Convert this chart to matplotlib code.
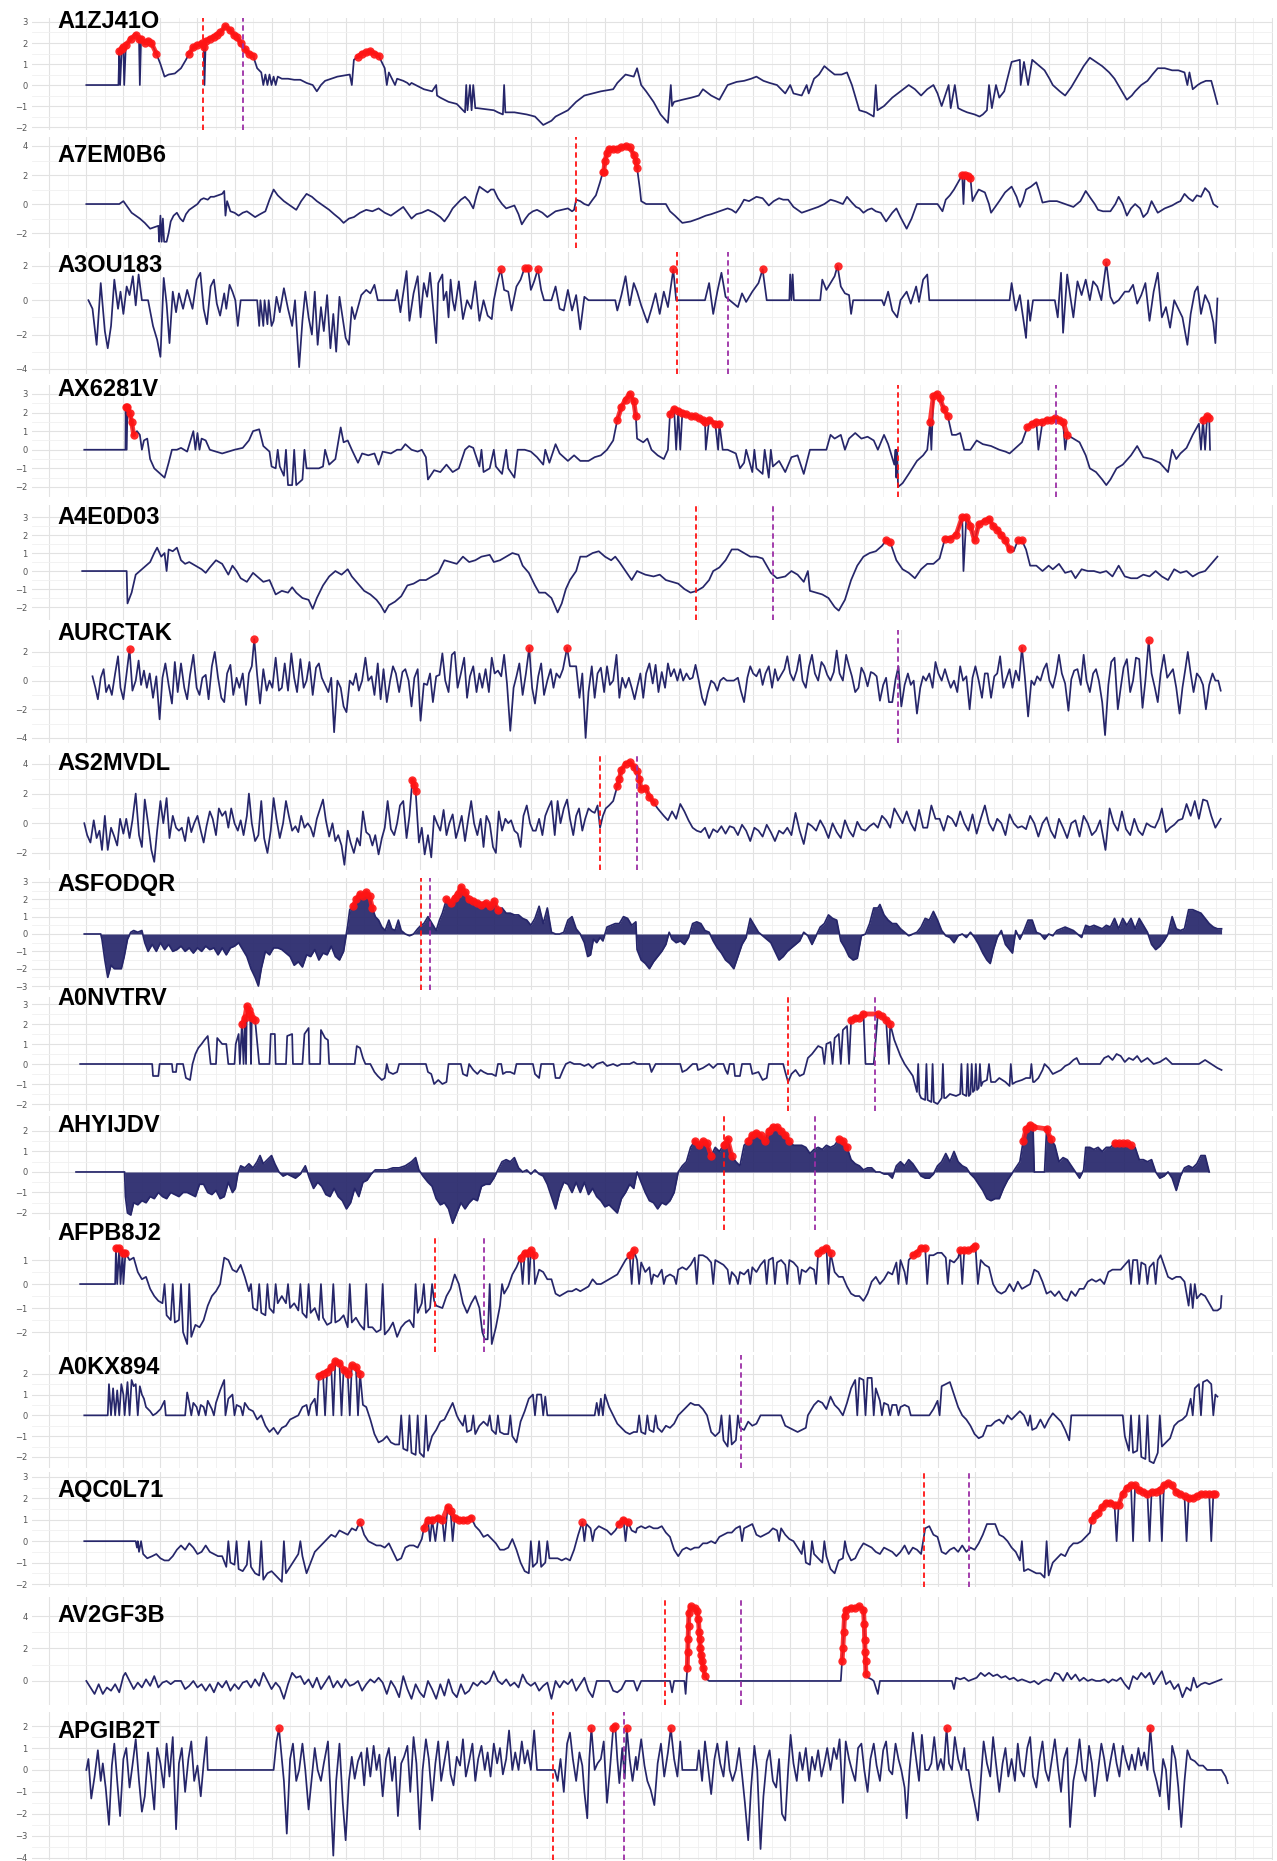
import numpy as np
import matplotlib
matplotlib.use("Agg")
import matplotlib.pyplot as plt

# Series: (time, value) pairs, time in arbitrary sample units.
A1ZJ41O = [(210,0),(288,0),(290,1.6),(292,0),(296,1.7),(300,1.8),(302,0),(306,1.9),(318,2.2),(330,2.4),(338,2.2),(340,0),(343,2.2),(352,2.0),(360,2.1),(368,2.0),(380,1.5),(390,1.0),(400,0.4),(410,0.5),(425,0.55),(440,0.8),(452,1.2),(460,1.5),(470,1.8),(480,1.9),(490,2.0),(495,1.8),(497,0),(500,2.1),(510,2.2),(520,2.3),(528,2.4),(535,2.5),(548,2.8),(560,2.6),(568,2.4),(575,2.3),(585,2.0),(595,1.7),(605,1.5),(615,1.4),(625,0.8),(635,0.6),(640,0),(645,0.5),(650,0),(655,0.5),(660,0),(665,0.4),(670,0),(675,0.4),(685,0.3),(700,0.3),(715,0.25),(730,0.25),(745,0.1),(760,0.0),(770,-0.3),(780,0.0),(790,0.2),(805,0.3),(820,0.4),(835,0.45),(850,0.5),(855,0),(860,1.2),(870,1.35),(880,1.5),(890,1.55),(900,1.6),(910,1.5),(920,1.4),(935,0.8),(940,0),(945,0.6),(950,0.4),(960,0),(965,0.3),(980,0.2),(990,0.1),(995,0),(1000,0.1),(1010,0.0),(1030,-0.2),(1050,-0.3),(1060,0),(1062,-0.5),(1070,-0.6),(1090,-0.8),(1110,-0.9),(1120,-1.1),(1130,-1.3),(1133,0),(1136,-1.2),(1142,0),(1146,-1.2),(1150,0),(1155,-1.1),(1160,-1.1),(1180,-1.15),(1200,-1.2),(1210,-1.3),(1222,-1.4),(1225,0),(1228,-1.3),(1250,-1.3),(1265,-1.35),(1280,-1.4),(1300,-1.5),(1310,-1.7),(1320,-1.9),(1330,-1.8),(1340,-1.7),(1350,-1.5),(1360,-1.4),(1380,-1.2),(1400,-0.8),(1420,-0.5),(1440,-0.4),(1460,-0.3),(1475,-0.25),(1490,-0.2),(1500,0.1),(1510,0.3),(1520,0.5),(1530,0.45),(1540,0.4),
           (1548,0.8),(1558,0.0),(1570,-0.3),(1588,-0.8),(1605,-1.4),(1623,-1.8),(1630,0),(1633,-1.0),(1638,-0.8),(1658,-0.7),(1680,-0.6),(1698,-0.5),(1708,-0.2),(1728,-0.5),(1748,-0.7),(1768,0.0),(1790,0.15),(1808,0.2),(1825,0.3),(1838,0.4),(1855,0.2),(1870,0.1),(1888,0.0),(1908,-0.4),(1920,0),(1928,-0.4),(1948,-0.5),(1960,0),(1965,-0.4),(1978,0.3),(1990,0.5),(2003,0.9),(2015,0.7),(2028,0.5),(2045,0.5),(2058,0.6),(2070,0.0),(2088,-1.2),(2105,-1.3),(2123,-1.5),(2128,0),(2132,-1.2),(2148,-1.0),(2168,-0.6),(2188,-0.3),(2208,0.0),(2223,-0.2),(2238,-0.5),(2253,-0.2),(2268,0.0),(2278,-0.4),(2288,-1.0),(2305,0),(2310,-1.1),(2320,0),(2328,-1.1),(2338,-1.2),(2350,-1.3),(2368,-1.4),(2380,-1.5),(2388,-1.4),(2398,-1.2),(2403,0),(2410,-1.1),(2420,0),(2428,-0.6),(2440,-0.3),(2458,1.1),(2468,1.15),(2478,1.2),(2480,0),(2488,1.1),(2498,0),(2508,1.2),(2520,1.0),(2538,0.7),(2550,0.3),(2558,0.0),(2575,-0.3),(2588,-0.5),(2603,-0.1),(2618,0.4),(2633,0.9),(2648,1.3),(2663,1.1),(2678,0.9),(2695,0.6),(2708,0.3),(2723,-0.2),(2738,-0.7),(2750,-0.5),(2758,-0.3),(2773,0.0),(2788,0.2),(2800,0.5),(2813,0.8),(2830,0.8),(2848,0.7),(2863,0.7),(2878,0.6),(2885,0),(2890,0.6),(2898,-0.2),(2910,0.0),(2918,0.1),(2930,0.2),(2943,0.2),(2950,-0.3),(2958,-0.9)]

A7EM0B6 = [(210,0),(290,0),(300,0.2),(310,-0.2),(320,-0.6),(330,-0.8),(340,-1.0),(352,-1.3),(365,-1.7),(375,-1.6),(385,-1.5),(387,-2.6),(390,-0.8),(393,-2.6),(396,-1.0),(399,-2.6),(405,-2.6),(410,-2.0),(415,-1.2),(422,-0.8),(430,-0.6),(438,-1.0),(445,-1.2),(452,-0.7),(460,-0.4),(470,-0.2),(480,0.0),(488,0.3),(495,0.4),(505,0.3),(512,0.5),(520,0.5),(530,0.6),(540,0.7),(545,0.9),(548,-0.8),(552,0.2),(560,-0.5),(570,-0.6),(580,-0.8),(590,-0.6),(600,-0.5),(610,-0.7),(620,-0.9),(632,-0.7),(645,-0.5),(655,0.3),(665,1.0),(675,0.6),(690,0.2),(705,-0.1),(720,-0.4),(732,0.2),(745,0.7),(758,0.5),(770,0.2),(785,-0.1),(800,-0.4),(812,-0.7),(825,-1.0),(835,-1.3),(848,-1.0),(860,-0.9),(875,-0.6),(890,-0.4),(905,-0.5),(920,-0.3),(935,-0.6),(950,-0.8),(965,-0.5),(980,-0.2),(990,-0.6),(1000,-1.0),(1012,-0.7),(1025,-0.6),(1040,-0.4),(1055,-0.6),(1070,-0.9),(1080,-1.2),(1090,-0.8),(1100,-0.3),(1110,0.0),(1120,0.3),(1130,0.5),(1140,0.2),(1150,-0.3),(1158,0.6),(1165,1.2),(1175,1.0),(1185,0.8),(1193,1.0),(1200,1.0),(1210,0.4),(1220,0.0),(1230,-0.3),(1240,-0.2),(1250,-0.1),(1260,-0.7),(1268,-1.4),(1277,-1.0),(1285,-0.7),(1295,-0.5),(1305,-0.4),(1318,-0.6),(1330,-0.9),(1340,-0.7),(1350,-0.5),(1365,-0.4),(1380,-0.3),(1390,-0.5),(1395,-0.4),(1400,0.3),(1410,0.2),(1420,0.0),(1430,-0.1),(1440,0.3),(1448,0.6),(1458,1.5),(1465,2.2),(1467,2.2),(1470,3.0),(1475,3.5),(1480,3.8),(1490,3.8),(1500,3.8),(1510,3.9),(1520,4.0),(1530,3.9),(1540,3.4),(1545,3.0),
           (1548,2.5),(1555,1.0),(1558,0.2),(1570,0.0),(1588,0.0),(1605,0.0),(1618,0.0),(1628,-0.5),(1640,-0.8),(1658,-1.3),(1678,-1.2),(1698,-1.0),(1715,-0.8),(1728,-0.7),(1748,-0.5),(1768,-0.3),(1778,-0.4),(1788,-0.6),(1798,-0.2),(1808,0.3),(1820,0.2),(1838,0.5),(1853,0.4),(1868,-0.1),(1880,0.2),(1893,0.4),(1903,0.3),(1915,0.3),(1928,-0.2),(1948,-0.6),(1968,-0.4),(1988,-0.2),(2003,0.0),(2018,0.3),(2030,0.2),(2048,0.0),(2058,0.5),(2070,0.1),(2080,-0.2),(2088,-0.3),(2098,-0.6),(2108,-0.4),(2118,-0.3),(2128,-0.5),(2140,-0.6),(2153,-1.2),(2168,-0.6),(2178,-0.3),(2188,-0.9),(2203,-1.7),(2215,-1.0),(2228,0.0),(2250,0.0),(2278,0.0),(2290,-0.5),(2298,0.3),(2308,0.6),(2318,1.0),(2328,1.5),(2338,2.0),(2341,0.0),(2344,2.0),(2352,1.9),(2358,1.8),(2363,0.2),(2368,0.5),(2378,1.0),(2393,0.8),(2403,0.0),(2408,-0.6),(2418,-0.2),(2428,0.2),(2442,0.8),(2458,1.2),(2470,0.5),(2478,-0.2),(2485,0.2),(2493,1.0),(2505,1.2),(2518,1.5),(2526,0.8),(2533,0.1),(2550,0.2),(2568,0.2),(2588,0.0),(2608,-0.2),(2625,0.2),(2638,0.9),(2650,0.4),(2660,0.0),(2668,-0.4),(2680,-0.5),(2698,-0.5),(2710,0.0),(2718,0.5),(2728,0.0),(2738,-0.8),(2748,-0.3),(2758,0.0),(2770,-0.3),(2778,-0.9),(2788,-0.6),(2798,0.2),(2813,-0.6),(2830,-0.3),(2848,-0.1),(2860,0.1),(2868,0.2),(2878,0.7),(2888,0.4),(2898,0.2),(2908,0.6),(2918,0.5),(2928,1.1),(2938,0.8),(2948,0.0),(2958,-0.2)]

A3OU183 = [(215,0),(225,-0.5),(235,-2.6),(245,1.0),(255,-1.8),(262,-2.8),(270,-1.5),(278,1.2),(287,-0.5),(293,0.5),(300,-0.8),(308,0.8),(315,0.3),(323,1.4),(330,-0.3),(337,1.5),(345,0.0),(360,0.0),(372,-1.5),(382,-2.3),(390,-3.3),(398,1.3),(405,-0.2),(412,-2.5),(420,0.5),(428,-0.7),(435,0.4),(445,-0.5),(455,0.6),(468,-0.5),(478,1.2),(487,1.6),(495,-0.5),(503,-1.4),(512,0.8),(520,1.2),(527,-0.2),(535,-0.9),(545,0.4),(550,-0.5),(558,0.9),(565,0.5),(572,0.0),(578,-1.5),(585,0.0),(625,0.0),(630,-1.5),(633,0.0),(640,-1.5),(643,0.0),(650,-1.4),(653,0.0),(660,-1.5),(665,-1.2),(672,0.2),(680,-0.7),(690,0.7),(700,-0.5),(710,-1.5),(717,0.0),(727,-3.9),(735,-1.2),(742,0.5),(750,-1.0),(758,-2.0),(765,0.5),(772,-2.6),(780,-0.4),(787,-1.8),(795,0.3),(803,-2.8),(810,-0.8),(817,-3.0),(825,0.2),(833,-1.1),(840,-2.2),(848,-2.6),(855,-0.4),(862,-1.1),(870,-0.4),(878,0.3),(890,0.6),(900,0.4),(910,0.9),(918,0.0),(960,0.0),(965,0.6),(973,-0.7),(980,0.4),(988,1.7),(995,-1.2),(1005,0.4),(1015,1.4),(1022,-1.0),(1030,1.0),(1038,0.2),(1045,1.6),(1052,-0.3),(1060,-2.5),(1065,1.0),(1075,1.5),(1078,0.0),(1085,0.5),(1090,-1.0),(1095,1.2),(1100,0.0),(1105,-0.6),(1115,1.1),(1125,-1.1),(1135,0.0),(1145,-0.5),(1155,1.1),(1165,-1.2),(1175,0.0),(1185,-0.9),(1195,-1.1),(1200,0.0),(1210,1.2),(1217,1.8),(1225,0.6),(1235,0.5),(1243,-0.6),(1255,0.8),(1265,1.2),(1275,1.9),(1283,1.9),(1290,0.6),(1298,1.1),(1307,1.8),(1315,0.6),(1322,0.0),(1340,0.0),(1350,0.8),(1360,-0.5),(1370,-0.6),(1380,0.6),(1390,-0.6),(1400,0.3),(1410,-1.7),(1420,0.2),(1430,0.0),(1495,0.0),(1500,-0.6),(1510,0.3),(1520,1.4),(1530,-0.3),(1540,1.0),
           (1548,0.5),(1558,-0.3),(1573,-1.3),(1583,-0.5),(1593,0.4),(1603,-0.8),(1613,0.5),(1623,-0.4),(1636,1.8),(1643,0.0),(1713,0.0),(1723,1.0),(1733,-0.8),(1743,0.5),(1753,1.6),(1763,0.2),(1773,0.0),(1793,-0.4),(1803,0.4),(1813,-0.1),(1828,0.5),(1843,1.0),(1853,1.8),(1863,0.0),(1918,0.0),(1920,1.5),(1923,0.0),(1926,1.5),(1929,0.0),(1993,0.0),(1998,1.2),(2008,0.6),(2018,1.0),(2028,1.4),(2035,2.0),(2043,0.8),(2053,0.4),(2063,0.3),(2068,-0.8),(2073,0.0),(2143,0.0),(2148,-0.3),(2158,0.5),(2168,-0.6),(2180,-1.0),(2188,0.0),(2203,0.5),(2213,-0.2),(2226,0.8),(2233,-0.1),(2243,1.2),(2253,1.5),(2258,0.0),(2453,0.0),(2458,1.0),(2468,-0.6),(2478,0.3),(2493,-2.2),(2498,0.0),(2503,-1.2),(2510,0.0),(2563,0.0),(2570,-1.0),(2578,1.6),(2583,-1.9),(2593,1.5),(2600,0.3),(2608,-1.0),(2618,1.1),(2628,0.3),(2638,1.2),(2648,0.0),(2656,1.1),(2666,0.8),(2676,0.0),(2688,2.2),(2698,0.2),(2706,-0.2),(2718,0.0),(2733,0.5),(2743,0.5),(2753,0.9),(2763,-0.2),(2773,0.3),(2783,1.0),(2793,-1.2),(2803,0.5),(2813,1.6),(2823,-1.0),(2833,-0.4),(2843,-1.6),(2853,0.0),(2863,-0.5),(2873,-1.0),(2885,-2.6),(2893,-0.8),(2903,0.5),(2910,0.8),(2918,-0.8),(2928,0.3),(2938,-0.2),(2948,-1.3),(2953,-2.5),(2958,0.1)]

AX6281V = [(205,0),(305,0),(305.5,2.3),(308,0),(310,2.3),(315,2.0),(320,1.5),(325,0.8),(333,1.0),(340,0.8),(345,0),(350,0.5),(358,0.6),(365,-0.5),(375,-1.0),(385,-1.2),(400,-1.5),(410,-0.7),(418,0.0),(430,0.0),(440,0.1),(455,-0.1),(470,1.0),(475,0),(480,0.9),(485,0),(490,0.6),(500,0.5),(510,0.0),(525,-0.1),(540,-0.2),(555,-0.1),(570,0.0),(590,0.1),(605,0.5),(615,1.0),(630,1.1),(640,0.2),(655,-0.1),(660,-0.9),(670,-1.0),(675,0),(680,-0.9),(690,-1.4),(695,0),(700,-1.9),(710,-1.9),(715,0),(720,-1.9),(735,-1.6),(740,0),(745,-1.0),(760,-1.0),(775,-1.0),(785,-0.9),(790,0),(800,-0.8),(815,-0.5),(828,1.2),(835,0.4),(845,0.5),(855,0.0),(870,-0.7),(880,-0.2),(895,-0.3),(910,-0.2),(920,-0.8),(930,-0.1),(950,-0.2),(965,0.0),(975,0.0),(985,0.3),(1000,0.0),(1015,-0.1),(1025,0.0),(1035,-0.4),(1040,-1.6),(1055,-1.1),(1070,-1.2),(1085,-0.8),(1100,-1.2),(1115,-1.0),(1130,0.0),(1140,0.2),(1150,0.1),(1165,-0.9),(1170,0),(1175,-1.2),(1190,-1.0),(1200,0),(1205,-0.9),(1220,-1.3),(1230,0),(1235,-1.0),(1250,-1.5),(1258,0.0),(1275,0.0),(1290,-0.1),(1305,-0.4),(1320,-0.8),(1325,0),(1335,-0.7),(1350,0.3),(1360,-0.2),(1380,-0.6),(1395,-0.3),(1410,-0.6),(1430,-0.6),(1445,-0.4),(1460,-0.3),(1475,0.0),(1490,0.5),(1500,1.6),(1510,2.3),(1520,2.7),(1530,3.0),(1540,2.6),(1545,1.8),
           (1548,0.6),(1563,0.4),(1573,0.6),(1583,0.0),(1598,-0.3),(1613,-0.5),(1623,0.0),(1628,1.9),(1638,2.2),(1643,0),(1648,2.1),(1653,0),(1658,2.0),(1668,1.9),(1678,1.8),(1688,1.8),(1698,1.7),(1708,1.6),(1713,1.5),(1715,0),(1723,1.6),(1738,1.4),(1745,0),(1748,1.4),(1756,0.0),(1768,0.0),(1788,-0.2),(1798,-1.0),(1808,-0.7),(1813,0),(1828,-1.2),(1833,0),(1838,-1.0),(1853,-1.3),(1858,0),(1868,-1.5),(1873,0),(1878,-0.9),(1893,-0.6),(1908,-1.2),(1923,-0.4),(1938,-0.3),(1953,-1.3),(1968,0.0),(2008,0.0),(2018,0.8),(2028,0.6),(2043,0.8),(2053,0.0),(2063,0.6),(2078,0.9),(2093,0.6),(2108,0.7),(2123,0.5),(2133,0.0),(2148,0.8),(2158,0.3),(2173,-0.8),(2176,0),(2178,-1.5),(2180,0),(2182,-2.0),(2193,-1.8),(2208,-1.3),(2228,-0.6),(2243,-0.3),(2253,0.0),(2260,1.5),(2263,0.0),(2268,2.9),(2276,3.0),(2283,2.8),(2293,2.2),(2303,1.8),(2313,0.8),(2323,0.8),(2333,0.9),(2343,0.0),(2358,0.0),(2373,0.5),(2388,0.3),(2408,0.2),(2428,0.0),(2443,-0.1),(2453,-0.2),(2468,0.1),(2483,0.4),(2496,1.2),(2508,1.4),(2518,1.5),(2523,0.0),(2533,1.5),(2543,1.6),(2553,1.6),(2563,1.7),(2573,1.6),(2583,1.5),(2588,0),(2593,0.8),(2608,0.6),(2623,0.4),(2638,-0.3),(2648,-1.0),(2663,-1.2),(2678,-1.6),(2688,-1.9),(2698,-1.6),(2713,-1.0),(2728,-0.8),(2748,-0.3),(2763,0.2),(2778,-0.4),(2798,-0.5),(2818,-0.7),(2838,-1.2),(2848,0.0),(2858,-0.5),(2868,-0.2),(2883,0.1),(2898,0.8),(2913,1.4),(2918,0),(2923,1.6),(2928,0),(2933,1.8),(2938,1.7),(2940,0)]

A4E0D03 = [(200,0),(308,0),(310,-1.8),(320,-1.2),(330,-0.2),(340,0.0),(350,0.2),(365,0.5),(375,1.0),(382,1.3),(392,0.8),(400,1.0),(405,0.0),(410,1.2),(420,1.1),(430,1.3),(440,0.6),(450,0.4),(460,0.5),(475,0.3),(490,0.1),(500,-0.1),(510,0.2),(525,0.6),(540,0.4),(555,-0.2),(565,0.3),(575,0.0),(585,-0.4),(600,-0.6),(615,-0.1),(625,-0.3),(640,-0.6),(655,-0.5),(670,-1.3),(685,-1.1),(700,-1.2),(710,-0.9),(720,-1.2),(735,-1.5),(750,-1.6),(760,-2.1),(770,-1.5),(785,-0.8),(800,-0.3),(815,0.0),(830,-0.2),(845,0.1),(855,-0.3),(870,-0.7),(885,-1.1),(900,-1.3),(915,-1.6),(925,-1.9),(935,-2.3),(945,-1.9),(960,-1.7),(975,-1.4),(990,-0.8),(1005,-0.7),(1020,-0.5),(1035,-0.5),(1050,-0.3),(1065,-0.1),(1080,0.6),(1095,0.5),(1110,0.4),(1125,0.8),(1140,0.5),(1155,0.6),(1170,0.8),(1190,0.9),(1200,0.5),(1215,0.6),(1230,0.8),(1245,1.0),(1260,0.9),(1270,0.3),(1285,-0.1),(1300,-0.8),(1310,-1.2),(1325,-1.2),(1340,-1.5),(1355,-2.3),(1365,-1.8),(1375,-1.0),(1385,-0.5),(1400,0.0),(1410,0.8),(1425,0.8),(1440,1.0),(1455,1.1),(1470,0.8),(1485,0.6),(1495,0.8),(1505,0.5),(1520,0.0),(1535,-0.5),
           (1548,0.0),(1568,-0.2),(1588,-0.3),(1603,-0.2),(1618,-0.5),(1633,-0.6),(1648,-0.7),(1663,-1.0),(1678,-1.2),(1693,-1.1),(1708,-0.9),(1723,-0.5),(1733,0.0),(1748,0.2),(1763,0.6),(1778,1.2),(1793,1.2),(1808,1.0),(1823,0.8),(1838,0.8),(1853,0.7),(1863,0.3),(1873,-0.1),(1888,-0.4),(1908,-0.3),(1923,0.0),(1938,-0.2),(1953,-0.6),(1963,0.0),(1968,-1.1),(1983,-1.2),(1998,-1.3),(2013,-1.5),(2028,-2.0),(2038,-2.2),(2053,-1.6),(2068,-0.5),(2083,0.3),(2098,0.8),(2113,1.0),(2128,1.1),(2143,1.4),(2153,1.7),(2163,1.6),(2178,0.6),(2193,0.1),(2208,-0.1),(2223,-0.4),(2238,0.1),(2253,0.4),(2268,0.4),(2283,0.7),(2296,1.8),(2308,1.8),(2323,2.0),(2338,3.0),(2341,0.0),(2348,3.0),(2358,2.5),(2368,1.7),(2378,2.6),(2393,2.8),(2403,2.9),(2413,2.5),(2423,2.3),(2433,2.0),(2443,1.7),(2453,1.2),(2463,1.1),(2473,1.7),(2483,1.7),(2493,1.2),(2503,0.3),(2518,0.3),(2533,0.0),(2548,0.3),(2558,0.1),(2573,0.4),(2588,-0.1),(2603,0.0),(2613,-0.4),(2628,0.1),(2643,0.0),(2658,0.0),(2673,-0.1),(2688,0.0),(2703,-0.3),(2718,0.3),(2733,-0.3),(2748,-0.4),(2763,-0.4),(2778,-0.2),(2793,-0.3),(2808,0.0),(2823,-0.3),(2838,-0.5),(2853,0.1),(2868,-0.1),(2883,0.0),(2898,-0.3),(2913,-0.1),(2928,0.0),(2943,0.4),(2958,0.8)]

AURCTAK = [(225,0.3),(232,-0.5),(238,-1.3),(245,0.2),(252,0.8),(258,-0.8),(265,-0.3),(272,-1.0),(280,0.5),(287,1.7),(293,-0.5),(300,-1.3),(307,0.3),(315,2.2),(322,-0.7),(330,0.0),(337,1.4),(343,-0.3),(350,0.7),(357,-0.5),(364,0.5),(372,-1.2),(380,0.3),(388,-2.7),(395,0.2),(402,1.2),(410,-0.3),(418,-1.6),(425,1.3),(432,-0.8),(440,1.2),(448,-0.5),(455,-1.3),(462,0.4),(470,1.8),(478,-0.5),(485,-1.0),(492,0.2),(500,0.4),(507,-1.3),(515,1.0),(522,2.0),(530,0.2),(538,-1.2),(545,-1.5),(552,0.5),(560,1.1),(567,-1.0),(575,0.2),(582,-0.5),(590,0.5),(598,-1.7),(605,0.5),(612,1.0),(618,2.9),(625,0.4),(632,-1.6),(640,0.8),(648,-0.7),(655,0.0),(662,-0.5),(670,1.6),(678,-0.7),(685,-0.5),(692,1.2),(700,-0.7),(708,1.9),(715,0.2),(722,-0.8),(730,1.5),(738,-0.5),(745,0.0),(752,1.3),(760,-1.0),(768,0.9),(775,1.2),(782,0.2),(790,-0.3),(798,-0.8),(805,0.2),(812,-3.6),(820,0.0),(828,-0.5),(835,-1.8),(842,-2.2),(850,0.0),(858,-0.3),(865,0.5),(872,-0.7),(880,0.0),(888,1.6),(895,0.0),(903,0.3),(910,-1.0),(918,1.2),(925,-1.3),(932,0.8),(940,-1.5),(948,0.0),(955,1.0),(962,0.5),(970,-0.8),(978,0.6),(985,0.8),(993,0.0),(1000,-1.8),(1007,0.2),(1015,0.8),(1022,-2.8),(1030,-0.2),(1038,-0.3),(1045,0.5),(1052,-1.5),(1060,0.3),(1068,0.4),(1075,1.9),(1082,0.0),(1090,-0.8),(1098,1.8),(1105,2.0),(1112,-0.5),(1120,0.5),(1128,1.6),(1135,-1.2),(1142,0.3),(1150,1.0),(1158,-0.8),(1165,0.5),(1172,-0.5),(1180,0.8),(1188,-0.8),(1195,1.6),(1202,0.5),(1210,0.7),(1218,0.3),(1225,1.8),(1232,-0.2),(1240,-3.5),(1248,-0.5),(1255,0.3),(1262,1.2),(1270,-1.0),(1278,0.5),(1286,2.3),(1293,-0.5),(1300,-1.6),(1308,0.3),(1315,1.2),(1322,-1.0),(1330,0.0),(1338,0.8),(1345,-0.5),(1352,0.5),(1360,0.2),(1368,0.8),(1378,2.3),(1385,1.0),(1392,1.0),(1400,1.0),(1408,-1.2),(1415,0.5),(1423,-4.0),(1430,-0.8),(1438,1.0),(1445,-1.2),(1452,0.5),(1460,0.9),(1468,-0.8),(1475,1.0),(1482,-0.3),(1490,0.0),(1498,1.8),(1505,-1.2),(1512,0.2),(1520,-0.5),(1528,0.2),(1535,-0.5),(1542,-1.3),
           (1548,-0.5),(1556,0.5),(1563,-1.2),(1570,0.5),(1578,1.2),(1586,-0.2),(1593,1.1),(1600,-0.8),(1608,0.6),(1616,-0.5),(1623,1.2),(1630,0.3),(1638,0.8),(1646,0.0),(1653,0.8),(1660,0.0),(1668,0.5),(1676,0.1),(1683,0.2),(1690,1.1),(1698,0.0),(1706,-1.2),(1713,-1.7),(1720,-0.8),(1728,0.0),(1736,-0.2),(1743,-0.7),(1750,0.0),(1758,0.2),(1766,0.0),(1783,0.0),(1793,0.2),(1800,-0.7),(1808,-1.5),(1816,0.2),(1823,1.0),(1830,0.5),(1838,0.3),(1846,0.8),(1853,-0.3),(1860,0.5),(1868,1.0),(1876,-0.5),(1883,0.8),(1890,0.0),(1898,0.4),(1906,0.8),(1913,1.7),(1920,0.5),(1928,0.0),(1936,0.7),(1943,1.8),(1950,0.0),(1958,-0.5),(1966,1.0),(1973,1.8),(1980,0.5),(1988,0.0),(1996,1.3),(2003,1.0),(2010,0.4),(2018,0.0),(2026,0.6),(2033,2.1),(2040,0.5),(2048,0.0),(2056,1.8),(2063,1.0),(2070,0.3),(2078,-0.8),(2086,-0.5),(2093,0.9),(2100,0.5),(2108,-0.4),(2116,0.6),(2123,0.5),(2130,0.3),(2138,-1.4),(2146,-0.3),(2153,0.2),(2160,-1.5),(2168,-1.5),(2176,0.1),(2183,1.0),(2190,-1.8),(2198,-0.3),(2206,0.5),(2213,-0.3),(2220,0.0),(2228,-2.3),(2236,-0.5),(2243,0.3),(2250,0.0),(2258,0.5),(2266,-0.5),(2273,1.3),(2280,0.5),(2288,0.0),(2296,0.8),(2303,0.1),(2310,-0.5),(2318,0.0),(2326,-0.8),(2333,1.0),(2340,0.0),(2348,0.3),(2356,-2.0),(2363,0.2),(2370,1.0),(2378,0.0),(2386,-1.2),(2393,0.5),(2400,0.5),(2408,-1.2),(2416,0.3),(2423,0.5),(2430,1.7),(2438,-0.5),(2446,0.2),(2453,0.8),(2460,-0.5),(2468,0.7),(2476,0.0),(2483,2.3),(2490,0.3),(2498,-2.5),(2506,0.0),(2513,-0.3),(2520,0.3),(2528,0.0),(2536,0.8),(2543,1.2),(2550,0.0),(2558,-0.5),(2566,0.5),(2573,1.8),(2580,0.5),(2588,-0.2),(2596,-2.1),(2603,0.1),(2610,0.7),(2618,0.8),(2626,-0.3),(2633,1.8),(2640,0.0),(2648,-0.8),(2656,0.5),(2663,0.8),(2670,0.0),(2678,-1.5),(2685,-3.8),(2693,-0.3),(2700,1.3),(2708,1.6),(2716,-2.0),(2723,-0.5),(2730,0.9),(2738,1.5),(2746,-0.8),(2753,0.0),(2760,1.6),(2768,1.5),(2776,-1.9),(2783,0.0),(2791,2.8),(2798,0.5),(2806,-0.5),(2813,-1.5),(2820,0.5),(2828,1.8),(2836,0.2),(2843,0.5),(2850,0.8),(2858,-0.5),(2866,-2.3),(2873,-0.5),(2880,0.8),(2886,2.0),(2893,0.5),(2900,-0.8),(2908,0.5),(2916,0.2),(2923,-0.3),(2930,-2.0),(2938,-0.3),(2946,0.5),(2953,0.0),(2960,0.0),(2966,-0.7)]

AS2MVDL = [(205,0.0),(212,-0.8),(220,-1.3),(228,0.2),(235,-1.0),(242,-0.5),(248,-1.8),(255,0.5),(262,-1.8),(270,-0.3),(278,-0.9),(285,-1.5),(292,0.3),(300,-0.7),(307,0.3),(315,-1.0),(322,0.2),(330,2.0),(338,-0.8),(345,-1.6),(352,1.6),(360,0.0),(368,-1.8),(375,-2.6),(382,-0.5),(390,1.5),(397,0.0),(405,1.7),(412,-1.0),(420,0.5),(428,-0.3),(435,-0.5),(442,-0.3),(450,-1.2),(458,0.4),(465,-0.6),(472,0.0),(480,0.5),(488,-0.5),(495,-1.3),(502,-0.2),(510,0.8),(517,0.3),(525,-0.8),(532,1.0),(540,0.5),(548,0.8),(555,-0.3),(562,1.0),(570,0.0),(578,-0.5),(585,0.2),(592,-0.8),(600,0.5),(605,2.0),(612,0.0),(620,-1.2),(628,-0.8),(635,1.5),(642,-1.0),(650,-2.0),(658,-0.5),(665,1.7),(672,0.3),(680,-1.0),(688,0.0),(695,1.5),(702,0.5),(710,-0.5),(718,-0.2),(725,-0.6),(732,0.5),(740,-0.3),(748,0.0),(755,-0.3),(762,-0.9),(770,0.3),(778,1.0),(785,1.6),(792,0.2),(800,-0.9),(808,0.0),(815,-1.2),(822,-0.8),(830,-1.5),(837,-2.8),(845,-0.5),(852,-1.3),(860,-2.0),(868,-1.0),(875,-1.5),(882,0.8),(890,-0.6),(898,-0.8),(905,-1.5),(912,-0.8),(920,-2.1),(928,-1.0),(935,-0.3),(942,1.5),(950,-0.4),(958,-0.8),(965,0.0),(972,1.2),(980,1.5),(988,-1.0),(995,0.5),(1002,2.9),(1006,2.6),(1010,2.2),(1018,-1.3),(1025,-0.3),(1032,-2.1),(1040,-0.8),(1048,-2.3),(1055,0.5),(1062,0.0),(1070,-0.5),(1078,0.9),(1085,-0.8),(1092,0.0),(1100,0.6),(1108,-1.0),(1115,-0.3),(1122,0.5),(1130,-1.2),(1138,0.3),(1145,1.5),(1152,0.0),(1160,-0.8),(1168,0.3),(1175,-1.6),(1182,0.5),(1190,0.0),(1198,-1.6),(1205,-2.0),(1212,0.8),(1220,-0.5),(1228,0.3),(1235,0.0),(1242,0.2),(1250,-0.5),(1258,-0.7),(1265,-1.6),(1272,0.5),(1280,1.2),(1288,0.0),(1295,-0.5),(1302,-0.5),(1310,0.3),(1318,-0.8),(1325,0.5),(1332,1.0),(1340,1.5),(1348,-0.8),(1355,1.5),(1362,0.0),(1370,1.0),(1378,1.6),(1385,0.3),(1393,-0.8),(1400,0.5),(1407,1.0),(1415,-0.5),(1422,0.3),(1430,1.0),(1438,0.8),(1445,0.7),(1452,1.2),(1458,-0.3),(1465,0.5),(1472,1.0),(1480,1.2),(1490,1.5),(1500,2.5),(1505,3.0),(1510,3.6),(1520,4.0),(1530,4.1),(1540,3.8),
           (1548,3.5),(1553,3.0),(1558,2.3),(1568,2.4),(1578,1.8),(1588,1.4),(1598,1.0),(1613,0.5),(1623,0.2),(1633,0.8),(1643,0.3),(1653,1.3),(1663,0.8),(1673,0.2),(1683,-0.3),(1693,-0.5),(1703,-0.6),(1713,-0.3),(1723,-1.0),(1733,-0.4),(1743,-0.6),(1753,-0.2),(1763,-0.7),(1773,-0.2),(1783,-0.3),(1793,-0.8),(1803,-0.1),(1813,-0.5),(1823,-1.2),(1833,-0.3),(1843,-0.5),(1853,-0.9),(1863,-0.1),(1873,-0.6),(1883,-1.2),(1893,-0.5),(1903,-0.7),(1913,-0.3),(1923,-0.8),(1933,0.7),(1943,-0.5),(1953,-1.4),(1963,0.0),(1973,-0.2),(1983,-0.5),(1993,0.2),(2003,-0.3),(2013,-1.0),(2023,0.0),(2033,-0.6),(2043,-1.0),(2053,0.2),(2063,-0.5),(2073,-0.9),(2083,0.1),(2093,-0.4),(2103,-0.5),(2113,-0.2),(2123,0.0),(2133,-0.3),(2143,0.5),(2153,0.2),(2163,-0.3),(2173,1.0),(2183,0.5),(2193,0.0),(2203,0.8),(2213,0.0),(2223,-0.5),(2233,0.9),(2243,-0.3),(2253,-0.3),(2263,1.2),(2273,0.3),(2283,0.3),(2293,-0.5),(2303,0.5),(2313,0.3),(2323,-0.2),(2333,0.8),(2343,0.0),(2353,-0.5),(2363,0.6),(2373,-0.7),(2383,0.3),(2393,1.2),(2403,0.0),(2413,-0.5),(2423,0.3),(2433,0.0),(2443,-0.8),(2453,0.6),(2463,0.0),(2473,-0.3),(2483,-0.2),(2493,-0.4),(2503,0.5),(2513,0.0),(2523,-0.9),(2533,0.0),(2543,0.4),(2553,-0.5),(2563,-1.0),(2573,0.3),(2583,-0.3),(2593,-1.0),(2603,0.0),(2613,0.2),(2623,-0.9),(2633,0.5),(2643,0.0),(2653,-0.8),(2663,-0.5),(2673,0.2),(2686,-1.8),(2696,1.0),(2706,0.0),(2716,-0.5),(2726,0.8),(2736,-0.4),(2746,-0.8),(2756,0.3),(2766,-0.5),(2776,-0.8),(2786,0.0),(2796,-0.2),(2806,-0.3),(2816,0.3),(2823,1.0),(2833,-0.6),(2843,-0.3),(2853,-0.1),(2863,0.2),(2873,0.3),(2883,1.3),(2893,0.5),(2903,1.5),(2913,0.3),(2923,1.6),(2933,1.5),(2943,0.5),(2953,-0.3),(2966,0.3)]

ASFODQR = [(205,0),(245,0),(248,-0.3),(255,-1.5),(262,-2.5),(270,-1.8),(278,-2.0),(285,-2.0),(295,-2.0),(302,-1.3),(310,-0.3),(318,0.1),(325,0.2),(335,0.1),(345,0.2),(352,-0.5),(360,-1.0),(370,-0.6),(380,-1.0),(390,-0.5),(400,-0.9),(410,-0.6),(420,-1.0),(430,-0.9),(440,-0.7),(450,-1.0),(460,-0.8),(470,-1.1),(480,-0.8),(490,-1.0),(500,-0.7),(510,-0.9),(520,-0.8),(530,-1.2),(540,-0.8),(550,-1.2),(560,-0.8),(570,-0.7),(580,-0.5),(590,-0.9),(600,-1.3),(610,-2.0),(620,-2.5),(628,-3.0),(635,-2.0),(645,-1.0),(655,-1.2),(665,-0.8),(675,-0.8),(685,-0.9),(695,-1.1),(705,-1.3),(715,-1.8),(725,-1.6),(735,-1.9),(745,-1.2),(755,-1.3),(765,-0.9),(775,-1.5),(785,-1.1),(795,-1.2),(805,-0.7),(815,-1.3),(825,-1.5),(835,-1.0),(845,0.5),(850,1.4),(858,1.6),(866,2.0),(874,2.3),(882,2.2),(890,2.4),(898,2.2),(905,1.5),(912,1.0),(920,0.8),(928,0.4),(936,0.2),(945,0.8),(952,0.3),(960,0.2),(968,0.8),(975,0.2),(985,0.0),(995,-0.1),(1005,0.0),(1015,0.3),(1023,0.5),(1030,0.6),(1040,1.0),(1050,0.6),(1060,0.2),(1068,0.8),(1075,1.2),(1085,2.0),(1095,1.8),(1105,2.1),(1112,2.3),(1120,2.7),(1130,2.4),(1140,2.0),(1150,1.9),(1160,1.8),(1170,1.7),(1180,1.8),(1190,1.6),(1200,1.9),(1210,1.4),(1220,1.5),(1230,1.2),(1240,1.2),(1250,1.1),(1260,1.1),(1270,0.9),(1280,0.8),(1290,0.5),(1300,0.9),(1310,1.6),(1320,0.6),(1330,1.5),(1340,0.1),(1350,0.0),(1360,0.0),(1370,0.1),(1380,0.8),(1390,1.0),(1400,0.3),(1410,0.0),(1420,-0.5),(1428,-1.3),(1435,-1.2),(1442,-0.3),(1450,-0.5),(1458,-0.2),(1465,-0.4),(1475,0.4),(1485,0.5),(1495,0.6),(1505,0.6),(1515,1.0),(1525,0.9),(1535,0.5),(1545,0.7),
           (1548,-0.9),(1558,-1.5),(1568,-1.7),(1578,-2.0),(1588,-1.6),(1598,-1.3),(1608,-1.0),(1618,-0.6),(1626,0.1),(1633,-0.3),(1643,-0.5),(1653,-0.4),(1663,-0.6),(1673,-0.2),(1683,0.6),(1693,0.7),(1703,0.6),(1713,0.2),(1723,0.1),(1733,-0.4),(1743,-0.8),(1753,-1.1),(1763,-1.5),(1773,-1.7),(1783,-2.0),(1793,-1.3),(1803,-0.6),(1813,-0.2),(1823,0.9),(1833,0.5),(1843,0.1),(1853,-0.1),(1863,-0.3),(1873,-0.5),(1883,-1.0),(1893,-1.5),(1903,-1.3),(1913,-1.0),(1923,-0.8),(1933,-0.6),(1943,-0.4),(1953,0.1),(1963,-0.1),(1973,-0.6),(1983,-0.1),(1993,0.4),(2003,0.6),(2013,1.1),(2023,0.9),(2033,0.8),(2043,-0.4),(2053,-0.8),(2063,-1.3),(2073,-1.5),(2083,-1.4),(2093,-0.1),(2103,0.0),(2113,0.6),(2123,1.5),(2133,1.5),(2138,1.7),(2148,1.1),(2158,0.8),(2168,0.6),(2178,0.6),(2188,0.3),(2198,0.1),(2208,-0.1),(2218,0.0),(2228,0.1),(2238,0.4),(2248,0.9),(2258,0.8),(2268,1.3),(2278,0.8),(2288,0.2),(2298,-0.1),(2308,-0.2),(2318,-0.5),(2328,-0.1),(2338,0.0),(2348,-0.2),(2358,0.1),(2368,-0.2),(2378,-0.6),(2388,-1.1),(2398,-1.5),(2406,-1.7),(2414,-0.9),(2423,-0.2),(2433,0.2),(2443,-0.6),(2453,-0.9),(2460,-1.1),(2468,0.2),(2478,-0.3),(2488,0.2),(2498,0.8),(2508,0.8),(2518,0.1),(2528,0.0),(2538,-0.3),(2548,0.0),(2558,-0.1),(2568,0.2),(2578,0.3),(2588,0.4),(2598,0.3),(2608,0.2),(2618,0.0),(2628,-0.2),(2638,0.5),(2648,0.4),(2658,0.5),(2668,0.4),(2678,0.3),(2688,0.5),(2698,0.4),(2708,0.9),(2718,0.3),(2728,0.9),(2738,0.5),(2748,0.9),(2758,0.3),(2768,0.9),(2778,0.5),(2788,0.1),(2798,-0.6),(2808,-0.9),(2818,-0.7),(2828,-0.4),(2838,0.0),(2848,1.0),(2858,0.3),(2868,0.2),(2878,0.3),(2888,1.4),(2898,1.4),(2908,1.3),(2918,1.2),(2928,0.9),(2938,0.6),(2948,0.4),(2958,0.3),(2968,0.3)]

A0NVTRV = [(195,0),(370,0),(372,-0.6),(385,-0.6),(388,0.0),(418,0.0),(420,-0.4),(428,-0.4),(430,0.0),(445,0.0),(452,-0.7),(462,-0.8),(468,0.0),(475,0.5),(482,0.8),(490,1.0),(497,1.2),(505,1.4),(512,0.0),(525,0.0),(528,1.3),(540,1.0),(550,1.0),(555,0.0),(570,0.0),(573,1.0),(580,1.5),(583,0.0),(588,2.0),(592,0.0),(595,2.3),(598,0.0),(600,2.9),(604,2.7),(608,2.5),(610,0.0),(612,2.3),(620,2.2),(630,0.0),(655,0.0),(658,1.5),(668,1.5),(670,0.0),(695,0.0),(698,1.4),(710,1.5),(712,0.0),(735,0.0),(740,1.5),(750,1.8),(752,0.0),(778,0.0),(780,1.7),(790,1.3),(797,1.2),(800,0.0),(862,0.0),(867,0.9),(875,0.8),(882,0.3),(888,0.0),(900,0.0),(910,-0.4),(918,-0.6),(928,-0.8),(935,-0.7),(940,0.0),(945,-0.4),(955,-0.5),(965,-0.4),(970,0.0),(1035,0.0),(1040,-0.4),(1048,-0.5),(1055,-1.0),(1065,-0.8),(1075,-1.0),(1085,-0.9),(1090,0.0),(1120,0.0),(1125,-0.5),(1135,-0.6),(1140,0.0),(1150,-0.3),(1160,-0.5),(1168,-0.3),(1175,-0.4),(1185,-0.5),(1195,-0.5),(1205,-0.6),(1210,0.0),(1218,0.0),(1222,-0.5),(1230,-0.4),(1240,-0.4),(1250,-0.5),(1255,0.0),(1295,0.0),(1300,-0.5),(1310,-0.7),(1315,0.0),(1345,0.0),(1350,-0.7),(1360,-0.7),(1368,-0.3),(1375,0.0),(1385,0.1),(1395,0.0),(1410,0.0),(1420,-0.1),(1430,0.0),(1440,-0.2),(1450,0.0),(1465,0.1),(1475,-0.1),(1490,0.0),(1500,-0.1),(1510,0.0),(1530,0.0),(1540,0.1),
           (1548,0.0),(1578,0.0),(1583,-0.4),(1593,0.0),(1653,0.0),(1658,-0.4),(1668,-0.3),(1683,0.0),(1693,0.0),(1696,-0.3),(1708,-0.2),(1723,0.0),(1733,-0.2),(1743,0.0),(1758,0.0),(1763,-0.3),(1768,-0.5),(1773,0.0),(1783,0.0),(1786,-0.6),(1798,-0.6),(1803,0.0),(1823,0.0),(1828,-0.5),(1843,-0.4),(1853,-0.8),(1863,-0.7),(1868,0.0),(1903,0.0),(1908,-0.4),(1915,-0.9),(1923,-0.5),(1933,-0.3),(1943,-0.6),(1953,-0.5),(1963,0.3),(1973,0.5),(1988,0.9),(1998,0.8),(2003,0.0),(2008,1.0),(2018,1.1),(2023,0.0),(2028,1.3),(2038,1.5),(2043,0.0),(2048,1.7),(2058,1.9),(2063,0.0),(2068,2.2),(2078,2.3),(2088,2.3),(2098,2.5),(2103,0.0),(2123,0.0),(2133,2.5),(2143,2.4),(2153,2.2),(2160,0.0),(2163,2.0),(2173,1.2),(2188,0.4),(2198,0.0),(2208,-0.3),(2218,-0.6),(2228,-1.4),(2231,0.0),(2234,-1.5),(2238,-1.7),(2248,-1.8),(2251,0.0),(2254,-1.8),(2263,-1.9),(2266,0.0),(2269,-1.9),(2278,-2.0),(2288,-1.7),(2291,0.0),(2294,-1.7),(2298,-1.7),(2308,-1.5),(2323,-1.6),(2333,-1.5),(2336,0.0),(2339,-1.5),(2348,-1.6),(2351,0.0),(2354,-1.6),(2358,-1.5),(2361,0.0),(2364,-1.4),(2368,-1.3),(2371,0.0),(2374,-1.3),(2378,-1.2),(2381,0.0),(2384,-1.1),(2388,-0.9),(2398,-0.8),(2403,0.0),(2408,-0.9),(2418,-0.9),(2428,-0.7),(2443,-0.9),(2453,-1.1),(2456,0.0),(2460,-1.0),(2468,-0.9),(2483,-0.8),(2493,-0.7),(2503,-0.7),(2506,0.0),(2510,-0.9),(2513,-0.9),(2523,-0.7),(2533,-0.3),(2538,0.0),(2548,-0.2),(2558,-0.5),(2568,-0.4),(2578,-0.3),(2588,-0.1),(2598,0.0),(2608,0.2),(2616,0.3),(2623,0.0),(2673,0.0),(2683,0.3),(2693,0.4),(2703,0.2),(2713,0.5),(2723,0.4),(2733,0.1),(2743,0.3),(2753,0.2),(2763,0.4),(2773,0.1),(2788,0.3),(2803,0.0),(2818,0.1),(2833,0.3),(2848,0.0),(2863,0.0),(2878,0.0),(2893,0.0),(2913,0.0),(2928,0.2),(2943,0.0),(2958,-0.2),(2968,-0.3)]

AHYIJDV = [(185,0),(303,0),(305,-1.2),(310,-2.0),(318,-2.1),(325,-1.5),(335,-1.6),(345,-1.4),(355,-1.5),(365,-1.2),(375,-1.3),(385,-1.0),(395,-1.2),(405,-1.3),(415,-1.0),(425,-1.1),(435,-1.2),(445,-1.0),(455,-1.0),(465,-1.1),(475,-1.2),(485,-0.6),(495,-0.6),(505,-1.0),(515,-1.1),(525,-0.9),(535,-1.3),(545,-1.2),(555,-0.5),(565,-1.0),(572,-0.8),(578,-0.1),(585,0.3),(595,0.2),(605,0.4),(615,0.2),(625,0.5),(632,0.8),(640,0.4),(650,0.6),(660,0.8),(668,0.4),(678,0.0),(688,-0.2),(698,-0.1),(708,-0.2),(718,-0.3),(730,-0.1),(742,0.3),(752,-0.3),(762,-0.8),(772,-0.5),(782,-0.7),(792,-1.1),(802,-1.2),(812,-0.8),(822,-1.2),(832,-1.4),(842,-1.8),(852,-1.5),(862,-0.8),(872,-1.2),(882,-0.5),(892,-0.4),(902,-0.1),(912,0.1),(925,0.1),(940,0.1),(955,0.2),(970,0.2),(985,0.3),(1000,0.5),(1010,0.7),(1018,0.1),(1028,-0.2),(1040,-0.5),(1050,-0.7),(1060,-1.3),(1070,-1.6),(1080,-1.5),(1090,-1.8),(1100,-2.5),(1110,-2.0),(1120,-1.5),(1130,-1.8),(1140,-1.5),(1150,-1.3),(1160,-1.4),(1170,-0.7),(1180,-0.6),(1190,-0.6),(1200,-0.3),(1210,0.1),(1220,0.5),(1230,0.6),(1240,0.5),(1250,0.7),(1260,0.2),(1270,0.0),(1280,0.1),(1290,-0.1),(1300,0.1),(1310,-0.1),(1320,-0.2),(1330,-0.6),(1340,-1.2),(1350,-1.8),(1360,-1.0),(1370,-0.5),(1380,-0.6),(1390,-1.0),(1400,-0.5),(1410,-1.0),(1420,-0.5),(1430,-1.1),(1440,-0.8),(1450,-1.2),(1460,-1.4),(1470,-1.7),(1480,-1.6),(1490,-1.8),(1500,-2.0),(1510,-1.3),(1520,-1.0),(1530,-0.6),(1540,-0.8),
           (1548,0.0),(1558,-0.5),(1568,-1.0),(1578,-1.4),(1588,-1.5),(1598,-1.8),(1608,-1.5),(1618,-1.6),(1628,-1.4),(1638,-1.0),(1648,0.0),(1658,0.3),(1668,0.5),(1678,1.2),(1688,1.5),(1698,1.3),(1708,1.5),(1718,1.4),(1728,0.8),(1738,1.2),(1748,1.0),(1758,1.3),(1768,1.6),(1778,0.8),(1788,0.5),(1798,0.3),(1808,1.3),(1818,1.5),(1828,1.8),(1838,1.9),(1848,1.8),(1858,1.5),(1868,2.0),(1878,2.2),(1888,2.2),(1898,2.0),(1908,1.8),(1918,1.5),(1928,1.3),(1938,1.3),(1948,1.3),(1958,1.2),(1968,0.9),(1978,1.1),(1988,1.2),(1998,1.1),(2008,1.3),(2018,1.2),(2028,1.3),(2038,1.6),(2048,1.5),(2058,1.2),(2068,0.6),(2078,0.4),(2088,0.3),(2098,0.1),(2108,0.2),(2118,0.2),(2128,0.0),(2138,0.0),(2148,-0.1),(2158,-0.1),(2168,-0.3),(2178,0.3),(2188,0.5),(2198,0.3),(2208,0.6),(2218,0.4),(2228,0.1),(2238,-0.2),(2248,-0.3),(2258,-0.3),(2268,-0.1),(2278,0.3),(2288,0.5),(2298,0.9),(2308,0.5),(2318,1.0),(2328,0.5),(2338,0.3),(2348,0.2),(2358,-0.1),(2368,-0.3),(2378,-0.6),(2388,-0.9),(2398,-1.3),(2408,-1.4),(2418,-1.3),(2428,-1.3),(2438,-0.8),(2448,-0.4),(2458,-0.1),(2468,0.2),(2478,0.5),(2486,1.5),(2493,2.1),(2503,2.3),(2510,2.2),(2513,0.0),(2538,0.0),(2543,2.1),(2553,1.6),(2563,1.3),(2573,0.5),(2583,0.7),(2593,0.6),(2603,0.3),(2613,0.0),(2623,-0.3),(2633,0.1),(2638,1.2),(2648,1.2),(2658,1.1),(2668,1.2),(2678,1.0),(2688,1.2),(2698,1.2),(2708,1.4),(2718,1.4),(2728,1.4),(2738,1.4),(2748,1.3),(2758,1.2),(2768,0.6),(2778,0.6),(2788,0.5),(2798,0.6),(2808,0.0),(2818,-0.3),(2828,-0.2),(2838,0.0),(2848,-0.3),(2858,-0.9),(2868,-0.2),(2878,0.2),(2888,0.3),(2898,0.2),(2908,0.4),(2918,0.8),(2928,0.8),(2938,0.0)]

AFPB8J2 = [(195,0),(280,0),(282,1.5),(285,0.0),(290,1.5),(293,0.0),(298,1.3),(300,0.0),(305,1.3),(315,1.0),(325,1.1),(335,0.5),(345,0.2),(355,0.3),(365,-0.2),(375,-0.5),(385,-0.7),(395,-0.8),(400,0.0),(405,-1.3),(415,-1.5),(420,0.0),(425,-1.6),(435,-1.5),(440,0.0),(445,-2.0),(455,-2.5),(460,0.0),(465,-2.2),(475,-1.7),(485,-1.8),(495,-1.5),(505,-0.9),(515,-0.5),(525,-0.3),(535,0.0),(545,1.1),(555,1.0),(565,0.6),(575,0.5),(585,0.8),(595,0.3),(605,-0.3),(610,0.0),(615,-1.0),(625,-1.1),(630,0.0),(635,-1.2),(645,-1.3),(650,0.0),(655,-1.0),(665,-1.2),(670,0.0),(675,-0.8),(685,-0.5),(695,-0.8),(700,0.0),(705,-1.0),(715,-0.8),(725,-1.1),(730,0.0),(735,-1.2),(745,-1.4),(750,0.0),(755,-1.2),(765,-1.0),(775,-1.5),(780,0.0),(785,-1.4),(795,-1.7),(805,-1.6),(810,0.0),(815,-1.6),(825,-1.5),(835,-1.3),(845,-1.8),(850,0.0),(855,-1.6),(865,-1.4),(875,-1.7),(885,-1.9),(890,0.0),(895,-1.8),(905,-1.8),(915,-2.0),(925,-1.9),(930,0.0),(935,-2.1),(945,-1.9),(955,-1.6),(965,-2.2),(975,-1.8),(985,-1.6),(995,-1.5),(1005,-1.8),(1010,0.0),(1015,-1.2),(1025,-0.8),(1030,0.0),(1035,-1.2),(1045,-1.0),(1050,0.0),(1055,-0.7),(1060,-0.9),(1075,-1.0),(1085,-0.5),(1095,-0.2),(1105,0.4),(1115,0.0),(1125,-0.8),(1135,-1.2),(1145,-0.8),(1155,-0.5),(1165,-1.0),(1172,-2.0),(1178,-2.3),(1185,-2.3),(1190,0.0),(1195,-2.5),(1205,-1.8),(1215,-0.9),(1220,0.0),(1225,-0.4),(1235,-0.1),(1245,0.4),(1255,0.7),(1265,1.1),(1270,0.0),(1275,1.3),(1283,1.3),(1285,0.0),(1290,1.4),(1297,1.2),(1300,0.0),(1310,0.6),(1320,0.5),(1330,0.2),(1340,0.2),(1350,-0.4),(1360,-0.5),(1370,-0.4),(1380,-0.3),(1390,-0.3),(1400,-0.2),(1410,-0.3),(1420,-0.2),(1430,-0.1),(1440,0.2),(1450,0.0),(1460,0.0),(1470,0.1),(1480,0.2),(1490,0.3),(1500,0.4),(1510,0.7),(1520,1.0),(1530,1.2),(1535,0.0),(1540,1.4),
           (1548,1.0),(1553,0.0),(1558,0.9),(1568,0.5),(1578,0.7),(1583,0.0),(1588,0.4),(1598,0.3),(1608,0.6),(1613,0.0),(1618,0.3),(1628,0.4),(1638,0.3),(1643,0.0),(1648,0.6),(1658,0.7),(1668,0.6),(1678,0.8),(1688,1.1),(1693,0.0),(1698,1.2),(1708,1.2),(1718,1.1),(1728,0.9),(1733,0.0),(1738,1.0),(1748,0.9),(1758,0.8),(1768,0.6),(1773,0.0),(1778,0.5),(1788,0.3),(1793,0.0),(1798,0.5),(1808,0.4),(1818,0.6),(1823,0.0),(1828,0.7),(1838,0.5),(1848,0.8),(1858,1.0),(1863,0.0),(1868,1.0),(1878,1.1),(1883,0.0),(1888,0.9),(1898,1.0),(1908,0.8),(1913,0.0),(1918,1.0),(1928,0.9),(1938,0.7),(1943,0.0),(1948,0.6),(1958,0.5),(1968,0.7),(1978,0.6),(1983,0.0),(1988,1.3),(1998,1.4),(2008,1.5),(2013,0.0),(2018,1.3),(2028,0.5),(2038,0.3),(2048,0.3),(2058,-0.1),(2068,-0.4),(2078,-0.5),(2088,-0.5),(2098,-0.7),(2108,-0.4),(2118,0.1),(2128,0.3),(2138,0.0),(2148,0.2),(2158,0.5),(2168,0.4),(2178,0.9),(2183,0.0),(2188,1.0),(2198,0.5),(2203,0.0),(2208,1.0),(2218,1.2),(2228,1.3),(2238,1.5),(2248,1.5),(2253,0.0),(2258,1.2),(2268,1.2),(2278,1.3),(2288,1.3),(2298,1.1),(2303,0.0),(2308,1.0),(2318,0.9),(2328,1.1),(2333,1.4),(2338,0.0),(2343,1.4),(2353,1.4),(2363,1.5),(2370,1.6),(2376,0.0),(2383,1.0),(2393,0.8),(2403,0.7),(2413,0.0),(2423,-0.3),(2433,-0.4),(2443,-0.3),(2453,0.0),(2463,-0.3),(2473,0.1),(2483,-0.2),(2493,-0.1),(2503,0.0),(2513,0.6),(2523,0.5),(2533,0.1),(2543,-0.4),(2553,-0.3),(2563,-0.5),(2573,-0.3),(2583,-0.6),(2593,-0.7),(2603,-0.3),(2613,-0.5),(2623,-0.2),(2633,-0.2),(2643,0.1),(2653,0.2),(2663,0.1),(2673,0.2),(2683,0.0),(2693,0.5),(2703,0.6),(2713,0.6),(2723,0.6),(2733,0.8),(2743,1.0),(2748,0.0),(2753,1.0),(2763,1.0),(2768,0.0),(2773,0.9),(2783,0.8),(2788,0.0),(2793,0.7),(2803,0.9),(2808,0.0),(2813,1.0),(2820,1.2),(2828,0.8),(2838,0.3),(2848,0.2),(2858,0.3),(2868,0.3),(2878,0.1),(2888,-0.9),(2893,0.0),(2898,-1.0),(2903,0.0),(2908,-0.6),(2918,-0.4),(2928,-0.5),(2938,-0.8),(2948,-1.1),(2958,-1.1),(2966,-1.0),(2968,-0.5)]

A0KX894 = [(205,0),(262,0),(265,1.5),(270,0.0),(275,1.3),(280,0.0),(285,1.2),(290,0.0),(295,1.5),(300,1.0),(303,0.0),(310,1.6),(315,0.0),(320,1.7),(325,1.4),(330,1.5),(335,0.0),(340,1.4),(345,1.0),(350,0.8),(355,0.4),(365,0.2),(372,0.0),(380,0.1),(390,0.3),(400,0.7),(403,0.0),(450,0.0),(455,1.1),(460,0.6),(465,0.0),(470,0.6),(478,0.4),(483,0.0),(488,0.5),(495,0.4),(500,0.0),(505,0.7),(515,0.3),(520,0.0),(525,0.6),(535,1.2),(545,1.7),(548,0.0),(555,0.8),(565,1.0),(570,0.0),(575,0.5),(585,0.4),(590,0.0),(595,0.6),(605,0.3),(615,0.2),(625,-0.2),(635,0.0),(645,-0.5),(655,-0.8),(665,-0.6),(675,-0.9),(685,-0.6),(695,-0.5),(705,-0.2),(715,-0.1),(725,0.0),(735,0.4),(745,0.5),(750,0.0),(755,0.5),(765,0.8),(770,0.0),(775,1.9),(785,2.0),(790,0.0),(795,2.1),(805,2.3),(810,0.0),(815,2.6),(825,2.5),(830,0.0),(835,2.2),(845,2.0),(850,0.0),(855,2.4),(865,2.3),(870,0.0),(875,2.0),(882,0.5),(890,0.4),(900,-0.2),(910,-0.9),(920,-1.3),(930,-1.2),(940,-1.0),(950,-1.3),(960,-1.4),(970,-1.4),(975,0.0),(980,-1.6),(990,-1.7),(995,0.0),(1000,-1.8),(1010,-1.9),(1015,0.0),(1020,-1.8),(1030,-2.0),(1035,0.0),(1040,-1.7),(1050,-1.0),(1060,-0.7),(1070,-0.3),(1080,-0.2),(1090,0.2),(1100,0.6),(1110,0.0),(1115,-0.2),(1125,-0.5),(1130,0.0),(1135,-0.8),(1145,-0.7),(1150,0.0),(1155,-0.9),(1165,-0.5),(1175,-0.3),(1185,-0.5),(1190,0.0),(1195,-0.7),(1205,-0.9),(1210,0.0),(1215,-0.8),(1225,-0.9),(1235,-0.9),(1240,0.0),(1245,-1.0),(1255,-1.3),(1265,-0.3),(1275,0.2),(1285,0.8),(1295,1.0),(1300,0.0),(1305,1.0),(1315,1.0),(1320,0.0),(1325,0.9),(1330,0.0),(1445,0.0),(1450,0.6),(1455,0.0),(1460,0.8),(1465,0.0),(1470,1.0),(1475,0.7),(1480,0.4),(1490,0.0),(1500,-0.4),(1510,-0.6),(1520,-0.8),(1530,-0.9),(1540,-0.8),
           (1548,-0.8),(1553,0.0),(1558,-0.8),(1568,-0.9),(1573,0.0),(1578,-0.7),(1588,-0.8),(1593,0.0),(1598,-0.6),(1608,-0.8),(1618,-0.5),(1628,-0.6),(1638,-0.4),(1648,0.0),(1658,0.2),(1668,0.4),(1678,0.6),(1688,0.5),(1698,0.5),(1708,0.3),(1718,0.0),(1728,-0.8),(1738,-1.0),(1748,-0.8),(1753,0.0),(1758,-1.2),(1768,-1.5),(1773,0.0),(1778,-1.4),(1788,-1.2),(1793,0.0),(1798,-0.6),(1808,-0.7),(1818,-0.3),(1828,-0.5),(1838,-0.4),(1848,0.0),(1898,0.0),(1908,-0.5),(1918,-0.6),(1928,-0.7),(1938,-0.8),(1948,-0.7),(1958,-0.6),(1963,0.0),(1978,0.5),(1988,0.7),(1998,0.6),(2008,0.3),(2018,0.9),(2028,0.5),(2038,0.3),(2048,0.0),(2058,0.6),(2068,1.3),(2078,1.7),(2083,0.0),(2088,1.8),(2098,1.7),(2103,0.0),(2108,1.8),(2118,1.8),(2123,0.0),(2128,1.3),(2138,0.7),(2143,0.0),(2148,0.6),(2158,0.5),(2163,0.0),(2168,0.5),(2178,0.5),(2183,0.0),(2188,0.4),(2198,0.5),(2208,0.4),(2213,0.0),(2258,0.0),(2268,0.3),(2278,0.7),(2283,0.0),(2288,1.4),(2298,1.5),(2308,1.6),(2318,1.0),(2328,0.4),(2338,0.0),(2348,-0.2),(2358,-0.5),(2368,-0.9),(2378,-1.1),(2388,-1.0),(2398,-0.5),(2408,-0.5),(2418,-0.3),(2428,-0.2),(2438,-0.4),(2448,0.0),(2458,-0.2),(2468,0.0),(2478,0.2),(2488,0.0),(2498,-0.5),(2503,0.0),(2508,-0.7),(2518,-0.6),(2528,-0.2),(2538,-0.6),(2548,-0.2),(2558,0.1),(2568,-0.1),(2578,-0.3),(2588,-0.7),(2598,-1.2),(2603,0.0),(2728,0.0),(2733,-1.0),(2743,-1.7),(2748,0.0),(2753,-1.8),(2763,-1.7),(2768,0.0),(2773,-2.0),(2783,-2.1),(2788,0.0),(2793,-2.2),(2803,-2.3),(2813,-1.8),(2818,0.0),(2823,-1.5),(2833,-1.3),(2843,-1.1),(2853,-0.5),(2863,-0.3),(2873,-0.2),(2883,0.0),(2893,0.8),(2898,0.0),(2903,1.3),(2913,1.5),(2918,0.0),(2923,1.6),(2933,1.7),(2943,1.5),(2948,0.0),(2953,1.0),(2958,0.9)]

AQC0L71 = [(205,0),(330,0),(333,-0.3),(335,0.0),(338,-0.5),(343,0.0),(348,-0.6),(358,-0.8),(370,-0.7),(380,-0.6),(390,-0.8),(400,-0.9),(410,-0.9),(420,-0.7),(430,-0.4),(440,-0.2),(450,-0.4),(460,-0.1),(470,-0.3),(480,-0.6),(490,-0.5),(500,-0.2),(510,-0.5),(520,-0.6),(530,-0.7),(540,-0.7),(550,-1.2),(555,0.0),(560,-1.0),(570,-1.1),(575,0.0),(580,-1.3),(590,-1.4),(600,-1.1),(605,0.0),(610,-1.2),(620,-1.5),(630,-1.6),(635,0.0),(640,-1.8),(650,-1.5),(660,-1.4),(670,-1.6),(685,-1.9),(690,0.0),(695,-1.5),(705,-1.2),(715,-0.9),(725,-0.6),(730,0.0),(735,-0.7),(745,-1.5),(755,-1.0),(765,-0.5),(775,-0.3),(785,-0.1),(795,0.1),(805,0.3),(815,0.2),(825,0.5),(835,0.4),(845,0.3),(855,0.6),(865,0.5),(875,0.9),(885,0.3),(895,0.0),(905,-0.1),(915,-0.2),(925,-0.2),(935,-0.3),(945,-0.1),(955,-0.5),(965,-0.9),(975,-0.8),(985,-0.3),(995,-0.2),(1005,-0.2),(1015,-0.3),(1025,0.1),(1030,0.6),(1040,1.0),(1045,0.0),(1050,1.0),(1058,0.0),(1065,1.1),(1075,1.0),(1080,0.0),(1088,1.6),(1095,1.4),(1100,0.0),(1105,1.1),(1115,1.0),(1125,1.0),(1135,1.0),(1145,1.1),(1155,0.7),(1165,0.5),(1175,0.2),(1185,0.3),(1195,0.1),(1205,-0.1),(1215,-0.4),(1225,-0.4),(1235,-0.3),(1245,0.1),(1255,-0.4),(1265,-1.0),(1275,-1.4),(1285,-1.5),(1290,0.0),(1295,-1.2),(1305,-1.0),(1310,0.0),(1315,-1.2),(1325,-1.0),(1330,0.0),(1335,-0.8),(1345,-0.8),(1355,-0.8),(1365,-0.9),(1375,-0.8),(1385,-0.9),(1395,-0.4),(1405,0.3),(1415,0.9),(1420,0.0),(1425,0.8),(1435,0.6),(1440,0.0),(1445,0.5),(1455,0.7),(1465,0.6),(1475,0.5),(1485,0.3),(1495,0.5),(1505,0.8),(1515,1.0),(1520,0.0),(1525,0.9),(1535,0.5),(1545,0.4),
           (1548,0.6),(1558,0.7),(1568,0.6),(1578,0.7),(1588,0.6),(1598,0.6),(1608,0.7),(1618,0.4),(1628,0.2),(1638,-0.4),(1648,-0.7),(1658,-0.4),(1668,-0.3),(1678,-0.4),(1688,-0.3),(1698,-0.3),(1708,-0.1),(1718,-0.1),(1728,0.0),(1738,-0.1),(1748,0.2),(1758,0.3),(1768,0.4),(1778,0.4),(1788,0.6),(1798,0.7),(1803,0.0),(1808,0.6),(1818,0.7),(1828,0.8),(1838,0.3),(1848,0.2),(1858,0.3),(1868,0.4),(1878,0.6),(1888,0.5),(1893,0.0),(1898,0.6),(1908,0.3),(1918,0.1),(1928,0.0),(1938,-0.3),(1948,-0.6),(1953,0.0),(1958,-1.0),(1968,-1.1),(1973,0.0),(1978,-0.6),(1988,-0.8),(1998,-1.0),(2003,0.0),(2008,-0.7),(2018,-1.3),(2028,-1.5),(2038,-0.9),(2048,-0.8),(2053,0.0),(2058,-0.5),(2068,-0.9),(2078,-0.8),(2088,-0.4),(2098,-0.1),(2108,-0.2),(2118,-0.3),(2128,-0.5),(2138,-0.6),(2148,-0.3),(2158,-0.4),(2168,-0.5),(2178,-0.7),(2188,-0.5),(2198,-0.2),(2208,-0.6),(2218,-0.3),(2228,-0.4),(2238,-0.6),(2248,0.6),(2258,0.7),(2268,0.3),(2278,0.2),(2288,-0.5),(2298,-0.6),(2308,-0.4),(2318,-0.3),(2328,-0.5),(2338,-0.2),(2348,-0.5),(2358,-0.3),(2368,-0.4),(2378,-0.1),(2388,0.3),(2398,0.8),(2408,0.8),(2418,0.8),(2428,0.3),(2438,0.2),(2448,0.0),(2458,-0.3),(2468,-0.5),(2478,-0.9),(2483,0.0),(2488,-1.4),(2498,-1.3),(2508,-1.4),(2518,-1.5),(2528,-1.5),(2538,-1.7),(2543,0.0),(2548,-1.6),(2558,-1.0),(2568,-0.8),(2578,-0.6),(2588,-0.7),(2598,-0.3),(2608,-0.1),(2618,-0.1),(2628,0.0),(2638,0.2),(2648,0.4),(2653,1.0),(2660,1.2),(2668,1.3),(2678,1.6),(2688,1.8),(2698,1.8),(2708,1.7),(2713,0.0),(2718,1.7),(2728,2.2),(2738,2.5),(2748,2.6),(2753,0.0),(2758,2.6),(2768,2.4),(2778,2.3),(2788,2.2),(2793,0.0),(2798,2.3),(2808,2.3),(2818,2.4),(2823,0.0),(2828,2.6),(2838,2.7),(2848,2.6),(2858,2.3),(2868,2.2),(2878,2.1),(2883,0.0),(2888,2.0),(2898,2.0),(2908,2.1),(2918,2.2),(2928,2.2),(2938,2.2),(2943,0.0),(2948,2.2),(2953,2.2)]

AV2GF3B = [(210,0.0),(220,-0.4),(230,-0.8),(240,-0.2),(250,-0.8),(260,-0.4),(270,-0.6),(280,-0.2),(290,-0.7),(300,0.3),(305,0.5),(315,0.0),(325,-0.5),(335,-0.1),(345,-0.4),(355,0.1),(365,-0.3),(375,0.3),(385,-0.4),(395,-0.1),(405,0.0),(415,-0.2),(425,0.0),(440,0.0),(450,-0.5),(460,-0.3),(470,0.0),(480,-0.4),(490,-0.2),(500,-0.6),(510,-0.2),(520,-0.7),(530,-0.1),(540,-0.4),(550,0.0),(560,-0.6),(570,-0.2),(580,-0.5),(590,-0.1),(600,0.0),(610,-0.4),(620,0.1),(630,-0.3),(640,0.5),(650,0.0),(660,-0.5),(670,-0.1),(680,-0.4),(690,-1.1),(700,-0.2),(710,0.5),(720,0.2),(730,0.3),(740,-0.2),(750,0.1),(760,-0.4),(770,0.2),(780,-0.5),(790,-0.1),(800,0.3),(810,-0.4),(820,0.0),(830,-0.4),(840,0.1),(850,-0.3),(860,-0.2),(870,0.0),(880,-0.6),(890,-0.2),(900,0.1),(910,-0.1),(920,0.2),(930,-0.1),(940,-0.8),(950,0.0),(960,-0.4),(970,-1.0),(980,0.3),(990,-0.5),(1000,-1.1),(1010,-0.2),(1020,-0.7),(1030,-1.0),(1040,0.0),(1050,-0.5),(1060,-1.1),(1070,-0.2),(1080,-0.9),(1090,0.1),(1100,-0.7),(1110,-1.0),(1120,-0.2),(1130,-0.8),(1140,-0.6),(1150,-0.1),(1160,-0.3),(1170,0.0),(1180,-0.2),(1190,0.0),(1200,0.6),(1210,0.0),(1220,-0.2),(1230,0.1),(1240,-0.3),(1250,-0.1),(1260,-0.4),(1270,0.4),(1280,-0.1),(1290,-0.3),(1300,-0.1),(1310,-0.6),(1320,-0.3),(1330,-0.1),(1340,-1.1),(1350,0.0),(1360,-0.4),(1370,0.0),(1380,-0.2),(1390,0.1),(1400,-0.6),(1410,-0.2),(1420,0.2),(1430,-0.6),(1440,-1.0),(1450,0.0),(1480,0.0),(1490,-0.6),(1500,-0.7),(1510,-0.5),(1520,0.0),(1540,0.0),
           (1548,-0.6),(1558,0.0),(1628,0.0),(1633,-0.7),(1638,0.0),(1663,0.0),(1666,-0.8),(1670,0.8),(1671,1.8),(1672,2.6),(1673,3.4),(1674,4.2),(1678,4.6),(1688,4.5),(1694,4.3),(1697,3.8),(1699,3.0),(1700,2.6),(1702,2.0),(1704,1.6),(1706,1.2),(1709,0.8),(1713,0.3),(1718,0.1),(1723,0.0),(2043,0.0),(2046,1.2),(2048,2.0),(2050,3.0),(2052,4.0),(2056,4.4),(2068,4.5),(2078,4.5),(2088,4.6),(2098,4.4),(2100,3.5),(2101,2.5),(2102,1.8),(2103,1.2),(2104,0.4),(2110,0.2),(2118,0.1),(2123,0.0),(2133,-0.8),(2138,0.0),(2313,0.0),(2318,-0.5),(2323,0.2),(2333,0.1),(2343,0.2),(2353,0.0),(2363,0.1),(2373,0.2),(2383,0.5),(2393,0.3),(2403,0.5),(2413,0.3),(2423,0.4),(2433,0.2),(2443,0.3),(2453,0.1),(2463,0.2),(2473,0.0),(2483,0.1),(2493,0.0),(2503,-0.1),(2513,0.0),(2523,-0.2),(2533,0.0),(2543,0.1),(2553,0.0),(2563,0.5),(2573,0.4),(2583,0.0),(2593,0.5),(2603,0.1),(2613,0.4),(2623,0.0),(2633,0.2),(2643,0.0),(2653,0.1),(2663,0.0),(2673,0.0),(2683,0.1),(2693,-0.1),(2703,0.1),(2713,0.0),(2723,0.2),(2733,-0.2),(2743,-0.5),(2753,0.3),(2763,0.1),(2773,0.5),(2783,0.2),(2793,0.5),(2803,-0.2),(2813,0.2),(2823,0.6),(2833,-0.2),(2843,0.0),(2853,-0.5),(2863,-0.2),(2873,-1.0),(2883,-0.4),(2893,-0.6),(2900,0.2),(2908,-0.4),(2918,-0.2),(2928,-0.1),(2938,-0.2),(2948,-0.1),(2958,0.0),(2968,0.1)]

APGIB2T = [(210,0.0),(215,0.5),(222,-1.3),(230,-0.3),(238,0.9),(245,-0.5),(250,0.3),(257,-0.8),(265,-2.5),(272,0.2),(278,1.2),(285,-0.5),(292,-2.1),(300,0.5),(307,1.0),(315,-0.8),(322,0.2),(330,1.4),(338,-0.5),(345,-1.9),(352,-1.2),(360,0.8),(367,-0.3),(375,-1.8),(382,1.0),(390,0.3),(398,-0.8),(405,1.2),(412,-0.3),(420,1.5),(428,-2.7),(435,0.3),(442,1.0),(450,-1.0),(458,0.5),(465,1.3),(472,-0.5),(480,0.2),(488,-1.2),(495,0.3),(502,1.5),(505,0.0),(665,0.0),(672,1.3),(678,1.9),(685,0.5),(690,-0.5),(697,-2.9),(705,0.5),(712,1.2),(720,-0.5),(727,0.0),(735,1.2),(742,0.0),(750,-1.8),(757,-0.5),(765,1.0),(772,0.0),(780,-0.5),(787,0.3),(797,1.3),(803,-1.0),(810,-3.9),(817,-0.5),(825,1.2),(833,-1.5),(840,-3.2),(848,-0.5),(855,0.6),(862,-0.4),(870,0.4),(878,0.8),(885,-0.7),(892,1.0),(900,-0.3),(908,1.1),(915,0.0),(922,0.7),(930,-1.2),(938,0.5),(945,1.0),(953,-0.5),(960,0.6),(967,-2.1),(975,0.3),(982,0.6),(990,1.1),(997,-1.0),(1005,1.5),(1012,0.3),(1020,-2.7),(1027,0.0),(1035,1.4),(1042,0.5),(1050,-1.4),(1058,0.3),(1065,1.3),(1072,-0.5),(1080,0.4),(1088,1.3),(1095,-0.2),(1102,-0.7),(1110,0.6),(1118,0.2),(1125,1.4),(1132,-0.3),(1140,0.4),(1148,1.2),(1155,-0.5),(1162,0.5),(1170,1.1),(1178,0.0),(1185,0.8),(1192,-0.3),(1200,1.2),(1208,0.3),(1215,1.0),(1222,-0.2),(1230,0.5),(1237,1.8),(1245,0.0),(1252,0.8),(1260,0.0),(1268,1.3),(1275,0.3),(1282,0.9),(1290,0.0),(1298,1.8),(1305,0.0),(1348,0.0),(1355,-0.5),(1362,0.5),(1370,-1.0),(1378,1.2),(1385,1.7),(1392,0.5),(1400,-0.5),(1408,0.8),(1415,0.2),(1420,-1.0),(1427,-2.2),(1432,0.5),(1437,1.9),(1445,0.0),(1452,0.3),(1460,0.5),(1467,1.3),(1475,-1.5),(1482,0.0),(1490,1.9),(1495,2.0),(1500,0.5),(1505,-0.6),(1512,1.0),(1518,-0.4),(1523,1.9),(1530,0.5),(1537,-0.5),(1545,0.6),
           (1548,0.0),(1558,1.4),(1566,0.2),(1573,-0.5),(1581,-0.9),(1590,-1.6),(1598,0.3),(1606,1.2),(1614,-0.3),(1623,0.8),(1630,1.9),(1638,0.5),(1646,-0.3),(1653,1.3),(1658,0.0),(1693,0.0),(1698,0.9),(1706,-0.5),(1713,1.3),(1720,0.2),(1728,-1.1),(1736,0.5),(1743,1.2),(1750,0.3),(1758,-0.3),(1766,1.3),(1773,0.0),(1780,-0.5),(1788,0.0),(1796,1.0),(1803,-0.2),(1810,-1.5),(1818,-3.2),(1825,-0.8),(1833,1.1),(1840,0.0),(1848,-3.6),(1855,-1.2),(1863,0.4),(1870,0.9),(1878,-0.5),(1886,-0.8),(1893,0.5),(1900,-2.0),(1908,-2.3),(1915,0.0),(1921,1.6),(1928,0.3),(1936,-0.5),(1943,0.8),(1950,0.0),(1958,1.0),(1966,-0.5),(1973,0.6),(1980,0.0),(1988,0.9),(1996,-0.3),(2003,0.3),(2010,1.0),(2018,0.0),(2026,1.0),(2033,0.5),(2040,1.4),(2048,-1.5),(2055,1.3),(2063,0.5),(2070,0.0),(2078,-0.5),(2085,1.0),(2093,1.2),(2100,0.0),(2108,-1.0),(2115,0.5),(2123,1.2),(2130,0.2),(2138,-0.5),(2146,0.9),(2153,1.3),(2160,0.0),(2168,-0.2),(2176,1.2),(2183,0.5),(2190,0.0),(2198,-0.8),(2203,-2.2),(2210,0.0),(2218,1.7),(2226,0.5),(2233,-0.5),(2240,1.6),(2248,0.0),(2256,0.0),(2263,0.3),(2270,1.5),(2278,0.0),(2286,0.5),(2293,0.0),(2300,1.9),(2306,0.3),(2313,0.0),(2320,1.5),(2328,0.5),(2336,0.0),(2343,1.0),(2348,0.0),(2353,0.0),(2360,-0.8),(2368,-1.5),(2376,-2.3),(2383,-0.5),(2390,1.3),(2398,0.3),(2406,-0.3),(2413,1.5),(2420,0.3),(2428,-1.0),(2436,0.3),(2443,1.0),(2450,-0.3),(2458,0.5),(2466,-0.5),(2473,1.2),(2480,0.0),(2488,-0.3),(2496,1.0),(2503,1.5),(2510,-0.3),(2518,-0.8),(2526,0.5),(2533,1.3),(2540,0.0),(2548,-0.5),(2556,0.5),(2563,1.4),(2570,0.2),(2578,-1.0),(2585,0.5),(2593,1.0),(2600,-2.6),(2608,-0.5),(2616,0.3),(2623,1.4),(2630,0.0),(2638,-0.5),(2646,1.1),(2653,0.3),(2660,-1.2),(2668,0.0),(2676,1.2),(2683,0.5),(2690,-0.5),(2698,0.4),(2706,1.2),(2713,0.3),(2720,-0.3),(2728,1.1),(2735,0.5),(2743,0.0),(2750,0.7),(2758,0.0),(2766,1.0),(2773,0.2),(2780,0.8),(2788,0.0),(2795,1.9),(2803,0.0),(2810,-0.5),(2818,-1.2),(2826,0.5),(2833,0.0),(2840,-1.8),(2848,1.1),(2856,0.5),(2863,-0.8),(2870,-2.6),(2878,-0.5),(2885,0.9),(2893,0.5),(2903,0.4),(2913,0.2),(2923,0.2),(2933,0.0),(2943,0.0),(2953,0.0),(2968,0.0),(2978,-0.3),(2983,-0.6)]

# anomaly windows (time ranges flagged in red), and the two event markers per series
anomalies = {
    "A1ZJ41O": [(285, 382), (458, 620), (865, 925)],
    "A7EM0B6": [(1460, 1550), (2335, 2360)],
    "A3OU183": [(1214, 1220), (1272, 1286), (1304, 1310), (1633, 1639), (1850, 1856), (2032, 2038), (2685, 2691)],
    "AX6281V": [(300, 330), (1495, 1547), (1620, 1755), (2255, 2310), (2495, 2595), (2915, 2940)],
    "A4E0D03": [(2150, 2166), (2294, 2455), (2470, 2488)],
    "AURCTAK": [(312, 318), (615, 621), (1283, 1289), (1375, 1381), (2480, 2486), (2788, 2794)],
    "AS2MVDL": [(1000, 1012), (1498, 1590)],
    "ASFODQR": [(855, 905), (1080, 1210)],
    "A0NVTRV": [(585, 625), (2060, 2170)],
    "AHYIJDV": [(1680, 1730), (1755, 1780), (1810, 1925), (2035, 2062), (2483, 2555), (2705, 2750)],
    "AFPB8J2": [(278, 310), (1262, 1300), (1528, 1545), (1985, 2020), (2215, 2250), (2330, 2375)],
    "A0KX894": [(772, 880)],
    "AQC0L71": [(873, 878), (1028, 1150), (1413, 1418), (1503, 1527), (2650, 2955)],
    "AV2GF3B": [(1668, 1715), (2044, 2106)],
    "APGIB2T": [(675, 681), (1434, 1440), (1488, 1497), (1521, 1526), (1628, 1633), (2298, 2303), (2793, 2798)],
}
red_events = {"A1ZJ41O": 493, "A7EM0B6": 1400, "A3OU183": 1645, "AX6281V": 2183, "A4E0D03": 1691,
              "AS2MVDL": 1458, "ASFODQR": 1023, "A0NVTRV": 1915, "AHYIJDV": 1758, "AFPB8J2": 1058,
              "AQC0L71": 2246, "AV2GF3B": 1615, "APGIB2T": 1343}
purple_events = {"A1ZJ41O": 590, "A3OU183": 1768, "AX6281V": 2566, "A4E0D03": 1878, "AURCTAK": 2183,
                 "AS2MVDL": 1548, "ASFODQR": 1045, "A0NVTRV": 2126, "AHYIJDV": 1980, "AFPB8J2": 1177,
                 "A0KX894": 1800, "AQC0L71": 2355, "AV2GF3B": 1800, "APGIB2T": 1517}

names = ["A1ZJ41O", "A7EM0B6", "A3OU183", "AX6281V", "A4E0D03", "AURCTAK", "AS2MVDL", "ASFODQR",
         "A0NVTRV", "AHYIJDV", "AFPB8J2", "A0KX894", "AQC0L71", "AV2GF3B", "APGIB2T"]
series = [A1ZJ41O, A7EM0B6, A3OU183, AX6281V, A4E0D03, AURCTAK, AS2MVDL, ASFODQR,
          A0NVTRV, AHYIJDV, AFPB8J2, A0KX894, AQC0L71, AV2GF3B, APGIB2T]
filled = {"ASFODQR", "AHYIJDV"}

# layout: axes top/bottom and title centre in pixels, y range and ticks per panel
W, H = 1277, 1861
axes_px = [(18, 130), (137, 248), (252, 374), (385, 497), (505, 620), (630, 743), (755, 870), (878, 990),
           (997, 1111), (1116, 1230), (1237, 1352), (1355, 1468), (1472, 1587), (1597, 1705), (1712, 1860)]
title_px = [21, 156, 265, 390, 517, 633, 763, 885, 998, 1125, 1233, 1368, 1491, 1615, 1732]
ylims = [(-2.14, 3.19), (-3.03, 4.62), (-4.3, 2.81), (-2.54, 3.48), (-2.72, 3.67), (-4.35, 3.53),
         (-3.15, 4.6), (-3.23, 3.23), (-2.35, 3.35), (-2.83, 2.73), (-2.83, 1.96), (-2.53, 2.9),
         (-2.14, 3.23), (-1.48, 5.17), (-4.1, 2.64)]
ytick_sets = [range(-2, 4), range(-2, 5, 2), range(-4, 3, 2), range(-2, 4), range(-2, 4), range(-4, 3, 2),
              range(-2, 5, 2), range(-3, 4), range(-2, 4), range(-2, 3), range(-2, 2), range(-2, 3),
              range(-2, 4), range(0, 5, 2), range(-4, 3)]

NAVY = "#26266a"
RED = "#ff1414"
PURPLE = "#9c2fa6"
X0, X1 = 78, 3093

fig = plt.figure(figsize=(W / 100, H / 100), dpi=100)
fig.patch.set_facecolor("white")

for i, name in enumerate(names):
    top, bot = axes_px[i]
    ax = fig.add_axes([32 / W, 1 - bot / H, (1273 - 32) / W, (bot - top) / H])
    ax.set_facecolor("white")
    for s in ax.spines.values():
        s.set_visible(False)

    ticks = list(ytick_sets[i])
    ax.set_xlim(X0, X1)
    ax.set_ylim(*ylims[i])
    ax.set_yticks(ticks)
    ax.set_yticks([t + 0.5 * (ticks[1] - ticks[0]) for t in ticks[:-1]], minor=True)
    ax.set_xticks(np.arange(120, X1, 90))
    ax.set_xticks(np.arange(165, X1, 90), minor=True)
    ax.grid(True, which="major", color="#e2e2e2", lw=0.8)
    ax.grid(True, which="minor", color="#f0f0f0", lw=0.6)
    ax.set_axisbelow(True)
    ax.tick_params(axis="both", which="both", length=0)
    ax.tick_params(axis="y", labelsize=6, labelcolor="#555555", pad=3)
    ax.set_xticklabels([])

    t, v = np.array(series[i], dtype=float).T
    if name in filled:
        ax.fill_between(t, 0, v, color=NAVY, lw=0, alpha=0.92, zorder=2)
    ax.plot(t, v, color=NAVY, lw=1.25, solid_joinstyle="round", zorder=3)

    for a, b in anomalies[name]:
        m = (t >= a) & (t <= b) & (v != 0)
        ax.plot(t[m], v[m], color=RED, lw=3.5, alpha=0.85, solid_capstyle="round", zorder=4)
        ax.plot(t[m], v[m], "o", color=RED, ms=6, mew=0, alpha=0.9, zorder=5)

    if name in red_events:
        ax.axvline(red_events[name], color=RED, ls=(0, (3, 2)), lw=1.3, zorder=6)
    if name in purple_events:
        ax.axvline(purple_events[name], color=PURPLE, ls=(0, (3, 2)), lw=1.3, zorder=6)

    fig.text(57 / W, 1 - title_px[i] / H, name, fontsize=17, fontweight="bold",
             family=["Liberation Sans", "DejaVu Sans"], va="center", ha="left", zorder=10)

fig.savefig("out.png", dpi=100, facecolor="white")
